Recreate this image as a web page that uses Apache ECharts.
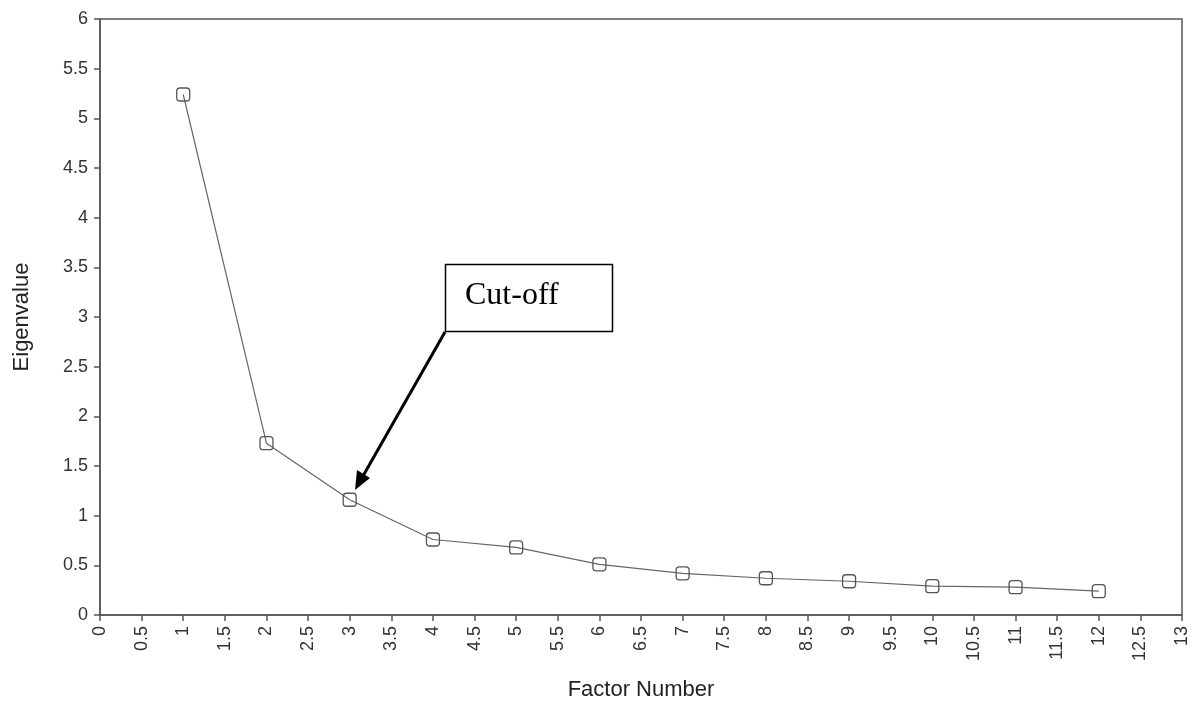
<!DOCTYPE html>
<html>
<head>
<meta charset="utf-8">
<script src="https://cdn.jsdelivr.net/npm/echarts@6/dist/echarts.min.js"></script>
<style>html,body{margin:0;padding:0;background:#fff}#c{width:1195px;height:706px}</style>
</head>
<body>
<div id="c"></div>
<script>
const factorNumbers = [1, 2, 3, 4, 5, 6, 7, 8, 9, 10, 11, 12];
const eigenvalues = [5.24, 1.73, 1.16, 0.76, 0.68, 0.51, 0.42, 0.37, 0.34, 0.29, 0.28, 0.24];
const xAxisTitle = 'Factor Number';
const yAxisTitle = 'Eigenvalue';
const annotationText = 'Cut-off';

const chart = echarts.init(document.getElementById('c'), null, {renderer: 'canvas'});
const axisColor = '#555';
const sansFont = '"Liberation Sans", Arial, sans-serif';
const labelStyle = {color: '#333', fontFamily: sansFont, fontSize: 18};
const option = {
  animation: false,
  backgroundColor: '#fff',
  grid: {left: 100, right: 13, top: 19, bottom: 91, outerBoundsMode: 'none', containLabel: false,
         show: true, borderColor: axisColor, borderWidth: 1.5, backgroundColor: 'transparent'},
  xAxis: {
    type: 'value', min: 0, max: 13, interval: 0.5,
    name: xAxisTitle, nameLocation: 'middle', nameGap: 64,
    nameTextStyle: {color: '#222', fontFamily: sansFont, fontSize: 22},
    axisLine: {show: true, lineStyle: {color: axisColor, width: 1.5}},
    axisTick: {show: true, length: 6, lineStyle: {color: axisColor, width: 1.5}},
    axisLabel: Object.assign({rotate: 90, margin: 11}, labelStyle),
    splitLine: {show: false}
  },
  yAxis: {
    type: 'value', min: 0, max: 6, interval: 0.5,
    name: yAxisTitle, nameLocation: 'middle', nameGap: 67,
    nameTextStyle: {color: '#222', fontFamily: sansFont, fontSize: 22},
    axisLine: {show: true, lineStyle: {color: axisColor, width: 1.5}},
    axisTick: {show: true, length: 6, lineStyle: {color: axisColor, width: 1.5}},
    axisLabel: Object.assign({margin: 12}, labelStyle),
    splitLine: {show: false}
  },
  series: [{
    type: 'line',
    data: factorNumbers.map((f, i) => [f, eigenvalues[i]]),
    symbol: 'roundRect',
    symbolSize: 13,
    lineStyle: {color: '#666', width: 1.2},
    itemStyle: {color: 'rgba(255,255,255,0)', borderColor: '#555', borderWidth: 1.3},
    emphasis: {disabled: true}
  }],
  graphic: [
    {type: 'rect', shape: {x: 445.5, y: 264.5, width: 167, height: 67}, style: {fill: '#fff', stroke: '#000', lineWidth: 1.5}, z: 100},
    {type: 'text', x: 465, y: 296, style: {text: annotationText, fill: '#000', font: '32px "Liberation Serif", "DejaVu Serif", serif', verticalAlign: 'middle'}, z: 101},
    {type: 'line', shape: {x1: 445, y1: 332, x2: 363, y2: 476}, style: {stroke: '#000', lineWidth: 3}, z: 100},
    {type: 'polygon', shape: {points: [[355, 490], [357, 470], [370, 478]]}, style: {fill: '#000'}, z: 100}
  ]
};
chart.setOption(option);
</script>
</body>
</html>
